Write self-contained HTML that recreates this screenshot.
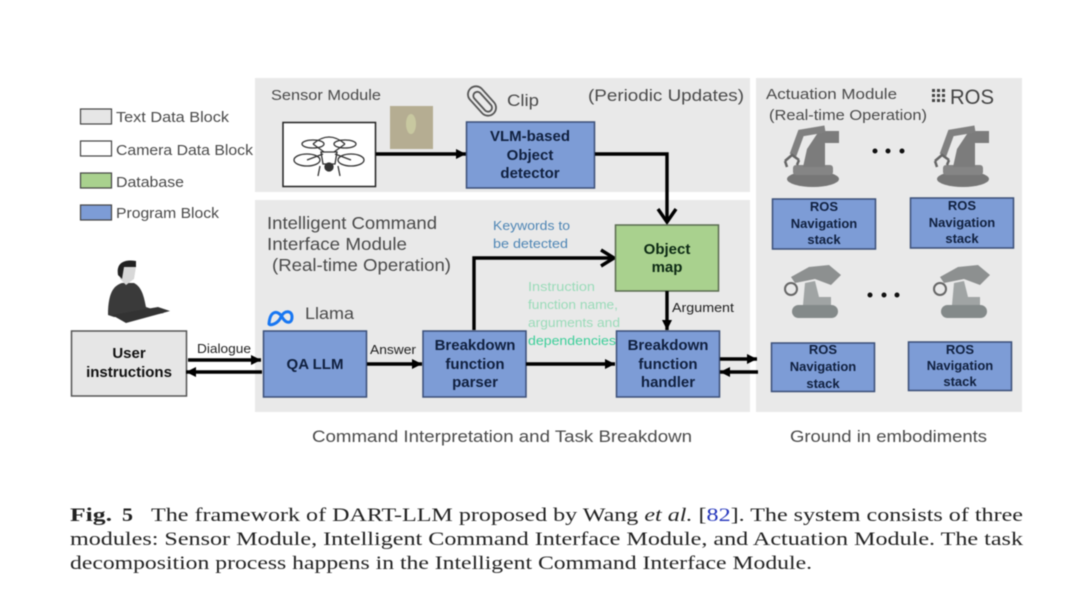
<!DOCTYPE html>
<html>
<head>
<meta charset="utf-8">
<style>
html,body{margin:0;padding:0;background:#fff;width:1080px;height:595px;overflow:hidden}
svg{display:block;filter:blur(0.4px)}
text{font-family:"Liberation Sans",sans-serif}
.l{font-size:15px;fill:#4a4a4a}
.b{font-size:15px;font-weight:bold;fill:#10203f;text-anchor:middle}
.s{font-size:13px;font-weight:bold;fill:#10203f;text-anchor:middle}
.t{font-size:13px;fill:#222}
.c{font-family:"Liberation Serif",serif;font-size:19px;fill:#222}
.k{font-size:12.5px;fill:#4f86b5}
.g{font-size:12.5px;fill:#9adbb9}
.blue{fill:#7d9cd6;stroke:#3b4f78;stroke-width:1.5}
.ln{stroke:#000;fill:none;stroke-width:3.4}
</style>
</head>
<body>
<svg width="1080" height="595" viewBox="0 0 1080 595" xmlns="http://www.w3.org/2000/svg">
<defs>
<marker id="a" markerUnits="userSpaceOnUse" markerWidth="12" markerHeight="12" refX="10" refY="5" orient="auto"><path d="M0 0L10 5L0 10Z" fill="#000"/></marker>
<g id="drone" fill="none" stroke="#333" stroke-width="1.3">
<ellipse cx="-22" cy="8" rx="13" ry="6"/><ellipse cx="22" cy="8" rx="13" ry="6"/>
<ellipse cx="-16" cy="-8" rx="11" ry="4"/><ellipse cx="16" cy="-8" rx="11" ry="4"/>
<path d="M-16 -8Q0 -22 16 -8M-16 -8L-5 0M16 -8L5 0M-22 8L-6 2M22 8L6 2"/>
<path d="M-8 0H8L6 12H-6ZM-9 14L-11 24M9 14L11 24"/>
<circle cx="0" cy="15" r="4" fill="#333"/>
</g>
<g id="robotA">
<ellipse cx="0" cy="30" rx="26" ry="8" fill="#777"/>
<rect x="-20" y="16" width="40" height="10" rx="3" fill="#858585"/>
<path d="M-10 18L-6 0L6 -18L26 -18L26 -6L12 -6L12 18Z" fill="#7c7c7c"/>
<path d="M12 -20L-12 -16L-20 6" fill="none" stroke="#808080" stroke-width="7"/>
<path d="M-28 12L-21 6L-14 11M-28 12L-26 18M-14 11L-16 16" fill="none" stroke="#666" stroke-width="2.5"/>
</g>
<g id="robotB">
<rect x="-23" y="20" width="46" height="13" rx="6.5" fill="#848a8a"/>
<path d="M-12 20H16V12H4L0 -4L-10 -2Z" fill="#a0a4a4"/>
<path d="M-24 -8L-6 -18L14 -20L26 -10L16 0L0 -6L-20 -2" fill="#8d9090"/>
<circle cx="-24" cy="4" r="6" fill="none" stroke="#666" stroke-width="2"/>
</g>
</defs>

<!-- panels -->
<rect x="255" y="78" width="495" height="114" fill="#e9e9e9"/>
<rect x="255" y="200" width="495" height="212" fill="#e9e9e9"/>
<rect x="756" y="78" width="266" height="334" fill="#e9e9e9"/>

<!-- legend -->
<rect x="80.500" y="109" width="31" height="15" fill="#e6e6e6" stroke="#444" stroke-width="1.200"/>
<rect x="80.500" y="141" width="31" height="15" fill="#fff" stroke="#444" stroke-width="1.200"/>
<rect x="80.500" y="173" width="31" height="15" fill="#a9d18e" stroke="#444" stroke-width="1.200"/>
<rect x="80.500" y="205" width="31" height="15" fill="#7d9cd6" stroke="#444" stroke-width="1.200"/>
<text class="l" x="116" y="122" textLength="113" lengthAdjust="spacingAndGlyphs">Text Data Block</text>
<text class="l" x="116" y="155" textLength="137" lengthAdjust="spacingAndGlyphs">Camera Data Block</text>
<text class="l" x="116" y="187" textLength="68" lengthAdjust="spacingAndGlyphs">Database</text>
<text class="l" x="116" y="218" textLength="103" lengthAdjust="spacingAndGlyphs">Program Block</text>

<!-- sensor module -->
<text class="l" x="271" y="100" textLength="110" lengthAdjust="spacingAndGlyphs">Sensor Module</text>
<rect x="283" y="122.500" width="92.500" height="64" fill="#fff" stroke="#222" stroke-width="1.500"/>
<use href="#drone" x="329" y="152"/>
<rect x="390" y="106" width="43" height="43" fill="#b5ad92"/>
<ellipse cx="411" cy="124" rx="5" ry="10" fill="#c8c8a0"/>
<line class="ln" x1="376" y1="154" x2="466" y2="154" marker-end="url(#a)"/>
<g fill="none" stroke="#555" stroke-width="1.800" transform="rotate(-42 482 101)">
<rect x="474" y="84" width="16" height="34" rx="8"/>
<rect x="478" y="90" width="8" height="24" rx="4"/>
</g>
<text class="l" x="507" y="106" style="font-size:17px" textLength="32" lengthAdjust="spacingAndGlyphs">Clip</text>
<text class="l" x="588" y="101" style="font-size:17px" textLength="156" lengthAdjust="spacingAndGlyphs">(Periodic Updates)</text>
<rect class="blue" x="466.500" y="122" width="128" height="66"/>
<text class="b" x="530" y="141">VLM-based</text>
<text class="b" x="530" y="160">Object</text>
<text class="b" x="530" y="178">detector</text>

<!-- connector to object map -->
<path class="ln" d="M595 154H667V222"/>
<path d="M658 209L667 222L676 209" fill="none" stroke="#000" stroke-width="3.400"/>

<!-- intelligent command -->
<text class="l" x="267" y="229" style="font-size:17.500px" textLength="170" lengthAdjust="spacingAndGlyphs">Intelligent Command</text>
<text class="l" x="267" y="250" style="font-size:17.500px" textLength="140" lengthAdjust="spacingAndGlyphs">Interface Module</text>
<text class="l" x="272" y="271" style="font-size:17.500px" textLength="179" lengthAdjust="spacingAndGlyphs">(Real-time Operation)</text>

<path d="M269 324C270 310 278 310 282 317C286 324 292 324 292 317C292 310 284 310 281 317C278 324 270 326 269 324Z" fill="none" stroke="#1877f2" stroke-width="3"/>
<text class="l" x="305" y="319" style="font-size:17px" textLength="49" lengthAdjust="spacingAndGlyphs">Llama</text>

<!-- user -->
<g transform="translate(128 293)">
<path d="M-20 22C-20 -4 -12 -8 -6 -10L6 -10C14 -6 16 4 18 14L36 20L10 24L-14 24Z" fill="#3a3a3a"/>
<path d="M-8 -28C-4 -34 8 -32 8 -26L6 -14L-2 -8L-8 -14Z" fill="#d8d8d8"/>
<path d="M-10 -18C-12 -30 -4 -34 8 -32L8 -26L-4 -26L-6 -14Z" fill="#222"/>
<path d="M-16 22L30 14L42 18L-2 30Z" fill="#333"/>
</g>
<rect x="71.500" y="331" width="115" height="65" fill="#e6e6e6" stroke="#555" stroke-width="1.500"/>
<text class="b" x="129" y="358" style="fill:#111">User</text>
<text class="b" x="129" y="377" style="fill:#111">instructions</text>

<text class="t" x="197" y="353" textLength="54" lengthAdjust="spacingAndGlyphs">Dialogue</text>
<line class="ln" x1="188" y1="360" x2="261" y2="360" marker-end="url(#a)"/>
<line class="ln" x1="262" y1="372" x2="186" y2="372" marker-end="url(#a)"/>

<rect class="blue" x="263.500" y="331" width="103" height="66"/>
<text class="b" x="315" y="369">QA LLM</text>

<text class="t" x="370" y="354" textLength="46" lengthAdjust="spacingAndGlyphs">Answer</text>
<line class="ln" x1="367" y1="364" x2="422" y2="364" marker-end="url(#a)"/>

<rect class="blue" x="423" y="331" width="103" height="66"/>
<text class="b" x="475" y="350">Breakdown</text>
<text class="b" x="475" y="369">function</text>
<text class="b" x="475" y="387">parser</text>

<!-- keywords -->
<path class="ln" d="M474 330V258H613"/>
<path d="M601 250L614 258L601 266" fill="none" stroke="#000" stroke-width="3.400"/>
<text class="k" x="493" y="230" textLength="77" lengthAdjust="spacingAndGlyphs">Keywords to</text>
<text class="k" x="493" y="248" textLength="75" lengthAdjust="spacingAndGlyphs">be detected</text>

<rect x="615.500" y="225" width="103" height="66" fill="#a9d18e" stroke="#5a6b50" stroke-width="1.500"/>
<text class="b" x="667" y="254" style="fill:#0d2a14">Object</text>
<text class="b" x="667" y="272" style="fill:#0d2a14">map</text>

<line class="ln" x1="667" y1="291" x2="667" y2="330" marker-end="url(#a)"/>
<text class="t" x="672" y="312" textLength="62" lengthAdjust="spacingAndGlyphs">Argument</text>

<text class="g" x="528" y="291" textLength="67" lengthAdjust="spacingAndGlyphs">Instruction</text>
<text class="g" x="528" y="309" textLength="90" lengthAdjust="spacingAndGlyphs">function name,</text>
<text class="g" x="528" y="327" textLength="92" lengthAdjust="spacingAndGlyphs">arguments and</text>
<text class="g" x="528" y="345" textLength="88" lengthAdjust="spacingAndGlyphs" style="fill:#3ecf9a">dependencies</text>

<line class="ln" x1="526" y1="364" x2="615" y2="364" marker-end="url(#a)"/>

<rect class="blue" x="616.500" y="331" width="103" height="66"/>
<text class="b" x="668" y="350">Breakdown</text>
<text class="b" x="668" y="369">function</text>
<text class="b" x="668" y="387">handler</text>

<line class="ln" x1="720" y1="359" x2="757" y2="359" marker-end="url(#a)"/>
<line class="ln" x1="758" y1="372" x2="720" y2="372" marker-end="url(#a)"/>

<!-- actuation -->
<text class="l" x="766" y="99" textLength="131" lengthAdjust="spacingAndGlyphs">Actuation Module</text>
<text class="l" x="769" y="120" textLength="158" lengthAdjust="spacingAndGlyphs">(Real-time Operation)</text>
<g fill="#444">
<rect x="932" y="89" width="3" height="3"/><rect x="937" y="89" width="3" height="3"/><rect x="942" y="89" width="3" height="3"/>
<rect x="932" y="94" width="3" height="3"/><rect x="937" y="94" width="3" height="3"/><rect x="942" y="94" width="3" height="3"/>
<rect x="932" y="99" width="3" height="3"/><rect x="937" y="99" width="3" height="3"/><rect x="942" y="99" width="3" height="3"/>
</g>
<text x="950" y="104" style="font-size:21px;fill:#444" textLength="44" lengthAdjust="spacingAndGlyphs">ROS</text>

<use href="#robotA" x="813" y="149"/>
<use href="#robotA" x="963" y="149"/>
<use href="#robotB" x="815" y="285"/>
<use href="#robotB" x="964" y="285"/>
<g fill="#111">
<circle cx="875" cy="151" r="2.500"/><circle cx="888" cy="151" r="2.500"/><circle cx="902" cy="151" r="2.500"/>
<circle cx="870" cy="295" r="2.500"/><circle cx="884" cy="295" r="2.500"/><circle cx="897" cy="295" r="2.500"/>
</g>

<rect class="blue" x="772.500" y="199" width="103" height="50"/>
<text class="s" x="824" y="211">ROS</text><text class="s" x="824" y="228">Navigation</text><text class="s" x="824" y="244">stack</text>
<rect class="blue" x="910.500" y="198" width="103" height="50"/>
<text class="s" x="962" y="210">ROS</text><text class="s" x="962" y="227">Navigation</text><text class="s" x="962" y="243">stack</text>
<rect class="blue" x="771.500" y="343" width="103" height="48.500"/>
<text class="s" x="823" y="354">ROS</text><text class="s" x="823" y="371">Navigation</text><text class="s" x="823" y="388">stack</text>
<rect class="blue" x="908.500" y="342" width="103" height="48.500"/>
<text class="s" x="960" y="354">ROS</text><text class="s" x="960" y="370">Navigation</text><text class="s" x="960" y="386">stack</text>

<!-- captions -->
<text class="l" x="312" y="442" style="font-size:17px" textLength="380" lengthAdjust="spacingAndGlyphs">Command Interpretation and Task Breakdown</text>
<text class="l" x="790" y="442" style="font-size:17px" textLength="197" lengthAdjust="spacingAndGlyphs">Ground in embodiments</text>

<text class="c" x="70" y="521" font-weight="bold" textLength="42" lengthAdjust="spacingAndGlyphs">Fig.</text>
<text class="c" x="122" y="521" font-weight="bold" textLength="11" lengthAdjust="spacingAndGlyphs">5</text>
<text class="c" x="151" y="521" textLength="872" lengthAdjust="spacingAndGlyphs">The framework of DART-LLM proposed by Wang <tspan font-style="italic">et al.</tspan> [<tspan fill="#2233bb">82</tspan>]. The system consists of three</text>
<text class="c" x="70" y="545" textLength="953" lengthAdjust="spacingAndGlyphs">modules: Sensor Module, Intelligent Command Interface Module, and Actuation Module. The task</text>
<text class="c" x="70" y="569" textLength="742" lengthAdjust="spacingAndGlyphs">decomposition process happens in the Intelligent Command Interface Module.</text>
</svg>
</body>
</html>
